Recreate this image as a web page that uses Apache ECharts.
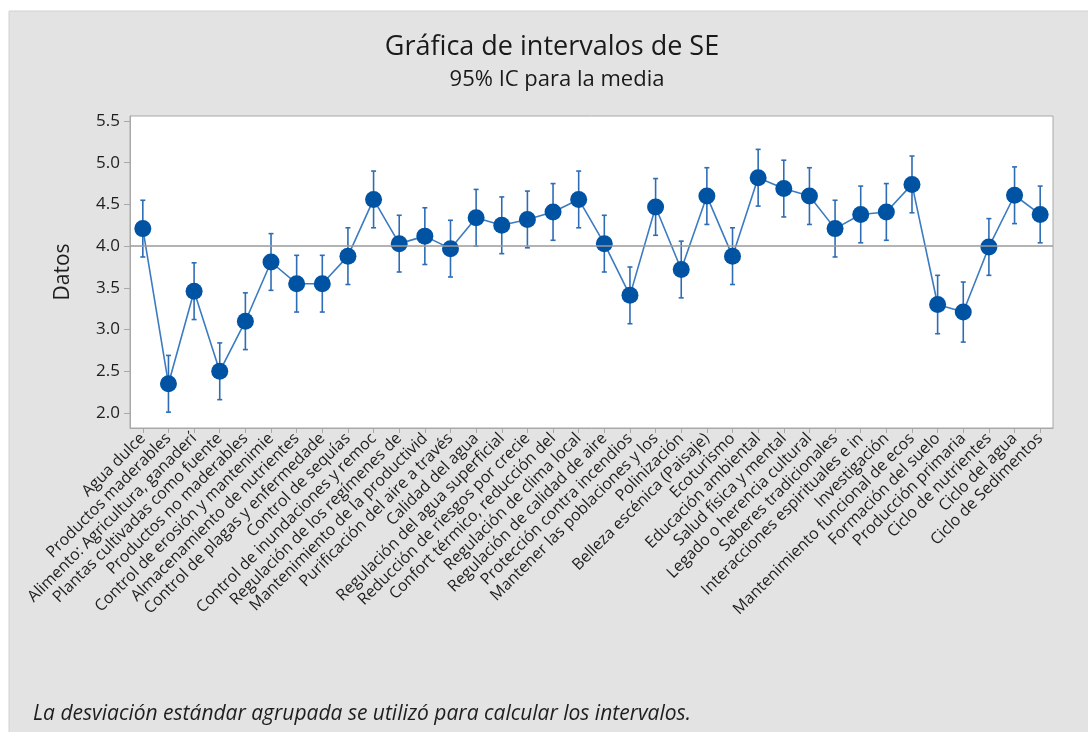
<!DOCTYPE html>
<html>
<head>
<meta charset="utf-8">
<script src="https://cdn.jsdelivr.net/npm/echarts@6/dist/echarts.min.js"></script>
<style>
html,body{margin:0;padding:0;background:#ffffff;}
#chart{width:1088px;height:732px;}
</style>
</head>
<body>
<div id="chart"></div>
<script>
const categories = [
  "Agua dulce","Productos maderables","Alimento: Agricultura, ganaderí","Plantas cultivadas como fuente",
  "Productos no maderables","Control de erosión y mantenimie","Almacenamiento de nutrientes","Control de plagas y enfermedade",
  "Control de sequías","Control de inundaciones y remoc","Regulación de los regímenes de","Mantenimiento de la productivid",
  "Purificación del aire a través","Calidad del agua","Regulación del agua superficial","Reducción de riesgos por crecie",
  "Confort térmico, reducción del","Regulación de clima local","Regulación de calidad de aire","Protección contra incendios",
  "Mantener las poblaciones y los","Polinización","Belleza escénica (Paisaje)","Ecoturismo",
  "Educación ambiental","Salud física y mental","Legado o herencia cultural","Saberes tradicionales",
  "Interacciones espirituales e in","Investigación","Mantenimiento funcional de ecos","Formación del suelo",
  "Producción primaria","Ciclo de nutrientes","Ciclo del agua","Ciclo de Sedimentos"
];
const means = [4.21,2.35,3.46,2.50,3.10,3.81,3.55,3.55,3.88,4.56,4.03,4.12,3.97,4.34,4.25,4.32,4.41,4.56,4.03,3.41,4.47,3.72,4.60,3.88,4.82,4.69,4.60,4.21,4.38,4.41,4.74,3.30,3.21,3.99,4.61,4.38];
const ciHalf = [0.34,0.34,0.34,0.34,0.34,0.34,0.34,0.34,0.34,0.34,0.34,0.34,0.34,0.34,0.34,0.34,0.34,0.34,0.34,0.34,0.34,0.34,0.34,0.34,0.34,0.34,0.34,0.34,0.34,0.34,0.34,0.35,0.36,0.34,0.34,0.34];
const yTicks = [2.0,2.5,3.0,3.5,4.0,4.5,5.0,5.5];
const grandMean = 4.01;

const titleText = "Gráfica de intervalos de SE";
const subtitleText = "95% IC para la media";
const yAxisName = "Datos";
const footnote = "La desviación estándar agrupada se utilizó para calcular los intervalos.";

const errData = means.map((m, i) => [i, m - ciHalf[i], m + ciHalf[i]]);

const chart = echarts.init(document.getElementById('chart'));
const FONT = "'Open Sans', 'Noto Sans', sans-serif";
chart.setOption({
  animation: false,
  backgroundColor: '#ffffff',
  graphic: [
    { type: 'rect', z: -10, shape: { x: 9, y: 11, width: 1090, height: 730 },
      style: { fill: '#e3e3e3', stroke: '#d2d2d2', lineWidth: 1 } },
    { type: 'text', left: 33, top: 704, z: 10,
      style: { text: footnote, font: "italic 21px 'Open Sans', sans-serif", fill: '#1e1e1e' } }
  ],
  title: [
    { text: titleText, left: 547, top: 29, textAlign: 'center',
      textStyle: { fontFamily: FONT, fontSize: 27, fontWeight: 500, color: '#1a1a1a' } },
    { text: subtitleText, left: 552, top: 64, textAlign: 'center',
      textStyle: { fontFamily: FONT, fontSize: 22, fontWeight: 500, color: '#1a1a1a' } }
  ],
  grid: { left: 130, top: 116, right: 35, bottom: 304, show: true, backgroundColor: '#ffffff',
          borderColor: '#a8a8a8', borderWidth: 1, containLabel: false },
  xAxis: {
    type: 'category', data: categories, boundaryGap: true,
    axisLine: { show: true, lineStyle: { color: '#a8a8a8', width: 1 } },
    axisTick: { show: true, alignWithLabel: true, length: 5, lineStyle: { color: '#a8a8a8' } },
    axisLabel: { interval: 0, rotate: 45, fontFamily: FONT, fontSize: 16, color: '#1e1e1e', margin: 8 },
    splitLine: { show: false }
  },
  yAxis: {
    type: 'value', min: 1.82, max: 5.56,
    name: yAxisName, nameLocation: 'middle', nameGap: 56, nameRotate: 90,
    nameTextStyle: { fontFamily: FONT, fontSize: 21, fontWeight: 500, color: '#1e1e1e' },
    axisLine: { show: true, lineStyle: { color: '#a8a8a8', width: 1 } },
    axisTick: { show: true, length: 6, lineStyle: { color: '#a8a8a8' }, customValues: yTicks },
    axisLabel: { fontFamily: FONT, fontSize: 17, fontWeight: 500, color: '#1e1e1e', margin: 10,
                 customValues: yTicks, formatter: v => v.toFixed(1) },
    splitLine: { show: false }
  },
  series: [
    {
      type: 'line', data: means, z: 1, symbol: 'none', silent: true,
      lineStyle: { opacity: 0 },
      markLine: { silent: true, symbol: 'none', label: { show: false },
        lineStyle: { color: '#9a9a9a', width: 1.5, type: 'solid' },
        data: [{ yAxis: grandMean }] }
    },
    {
      type: 'custom', z: 2, data: errData,
      renderItem: function (params, api) {
        const x = api.value(0);
        const lo = api.coord([x, api.value(1)]);
        const hi = api.coord([x, api.value(2)]);
        const cw = 2.5;
        const st = { stroke: '#2e6db6', lineWidth: 1.6 };
        return { type: 'group', children: [
          { type: 'line', shape: { x1: lo[0], y1: lo[1], x2: hi[0], y2: hi[1] }, style: st },
          { type: 'line', shape: { x1: lo[0]-cw, y1: lo[1], x2: lo[0]+cw, y2: lo[1] }, style: st },
          { type: 'line', shape: { x1: hi[0]-cw, y1: hi[1], x2: hi[0]+cw, y2: hi[1] }, style: st }
        ]};
      }
    },
    {
      type: 'line', data: means, z: 3,
      symbol: 'circle', symbolSize: 17,
      itemStyle: { color: '#0052a3' },
      lineStyle: { color: '#3b7bc2', width: 1.6 }
    }
  ]
});
</script>
</body>
</html>
